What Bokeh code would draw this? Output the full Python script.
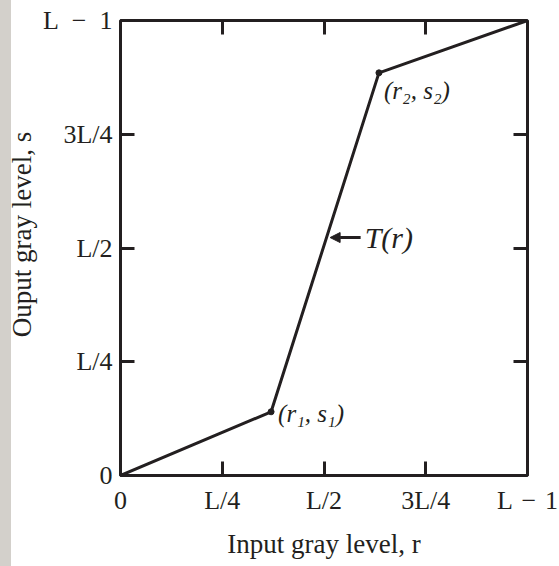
from bokeh.plotting import figure
from bokeh.models import Range1d, FixedTicker, LinearAxis, Label, Arrow, NormalHead
from bokeh.embed import file_html
from bokeh.resources import INLINE

# Piecewise-linear contrast-stretching transformation T(r)
r_vals = [0.0, 0.37, 0.635, 1.0]
s_vals = [0.0, 0.14, 0.885, 1.0]

tick_pos = [0.0, 0.25, 0.5, 0.75, 1.0]
x_tick_text = ["0", "L/4", "L/2", "3L/4", "L\u2004\u2212\u20041"]
y_tick_text = ["0", "L/4", "L/2", "3L/4", "L\u2002\u2212\u20021"]
inner_ticks = [0.25, 0.5, 0.75]

point_labels = ["(r\u2081, s\u2081)", "(r\u2082, s\u2082)"]
curve_label = "T(r)"

INK = "#231f20"
SERIF = "Liberation Serif"
EDGE = "#d3d0cb"

# leading no-break spaces nudge the rotated title slightly upward
y_title = "\u00a0\u00a0\u00a0\u00a0Ouput gray level, s"

p = figure(width=559, height=566, x_range=Range1d(0, 1), y_range=Range1d(0, 1),
           output_backend="svg", toolbar_location=None,
           x_axis_label="Input gray level, r", y_axis_label=y_title,
           min_border_left=120, min_border_right=32, min_border_top=20,
           min_border_bottom=91,
           styles={"background": f"linear-gradient(to right, {EDGE} 0px, {EDGE} 11px, #ffffff 11px)"})
p.grid.visible = False
p.outline_line_color = INK
p.outline_line_width = 3
p.background_fill_color = "white"
p.border_fill_color = None

p.xaxis[0].major_label_overrides = {t: s for t, s in zip(tick_pos, x_tick_text)}
p.yaxis[0].major_label_overrides = {t: s for t, s in zip(tick_pos, y_tick_text)}

for ax in (p.xaxis[0], p.yaxis[0]):
    ax.ticker = FixedTicker(ticks=tick_pos)
    ax.axis_line_color = None
    ax.major_tick_in = 14
    ax.major_tick_out = 0
    ax.major_tick_line_width = 3
    ax.major_tick_line_color = INK
    ax.minor_tick_line_color = None
    ax.major_label_text_font = SERIF
    ax.major_label_text_font_size = "26px"
    ax.major_label_text_color = INK
    ax.axis_label_text_font = SERIF
    ax.axis_label_text_font_size = "27px"
    ax.axis_label_text_font_style = "normal"
    ax.axis_label_text_color = INK

p.xaxis[0].major_label_standoff = 10
p.xaxis[0].axis_label_standoff = 11
p.yaxis[0].major_label_standoff = 8
p.yaxis[0].axis_label_standoff = 3

# inward ticks on the top and right edges of the box, no labels
for side in ("above", "right"):
    ax = LinearAxis(ticker=FixedTicker(ticks=inner_ticks))
    ax.major_label_overrides = {t: "" for t in inner_ticks}
    ax.axis_line_color = None
    ax.major_tick_in = 14
    ax.major_tick_out = 0
    ax.major_tick_line_width = 3
    ax.major_tick_line_color = INK
    ax.minor_tick_line_color = None
    ax.major_label_standoff = 0
    p.add_layout(ax, side)

# the transformation curve and its two control points
p.line(r_vals, s_vals, line_width=3, line_color=INK, line_join="miter")
p.scatter(r_vals[1:3], s_vals[1:3], size=6, color=INK)

p.add_layout(Label(x=r_vals[1], y=s_vals[1], text=point_labels[0], x_offset=7, y_offset=-2,
                   text_baseline="middle", text_font=SERIF, text_font_style="italic",
                   text_font_size="25px", text_color=INK))
p.add_layout(Label(x=r_vals[2], y=s_vals[2], text=point_labels[1], x_offset=5, y_offset=-18,
                   text_baseline="middle", text_font=SERIF, text_font_style="italic",
                   text_font_size="25px", text_color=INK))

# pointer to the curve
arrow_y = 0.523
p.add_layout(Arrow(x_start=0.59, y_start=arrow_y, x_end=0.515, y_end=arrow_y,
                   line_width=3, line_color=INK,
                   end=NormalHead(size=10, fill_color=INK, line_color=INK)))
p.add_layout(Label(x=0.59, y=arrow_y, text=curve_label, x_offset=4,
                   text_baseline="middle", text_font=SERIF, text_font_style="italic",
                   text_font_size="30px", text_color=INK))

open("out.html", "w").write(file_html(p, INLINE))
